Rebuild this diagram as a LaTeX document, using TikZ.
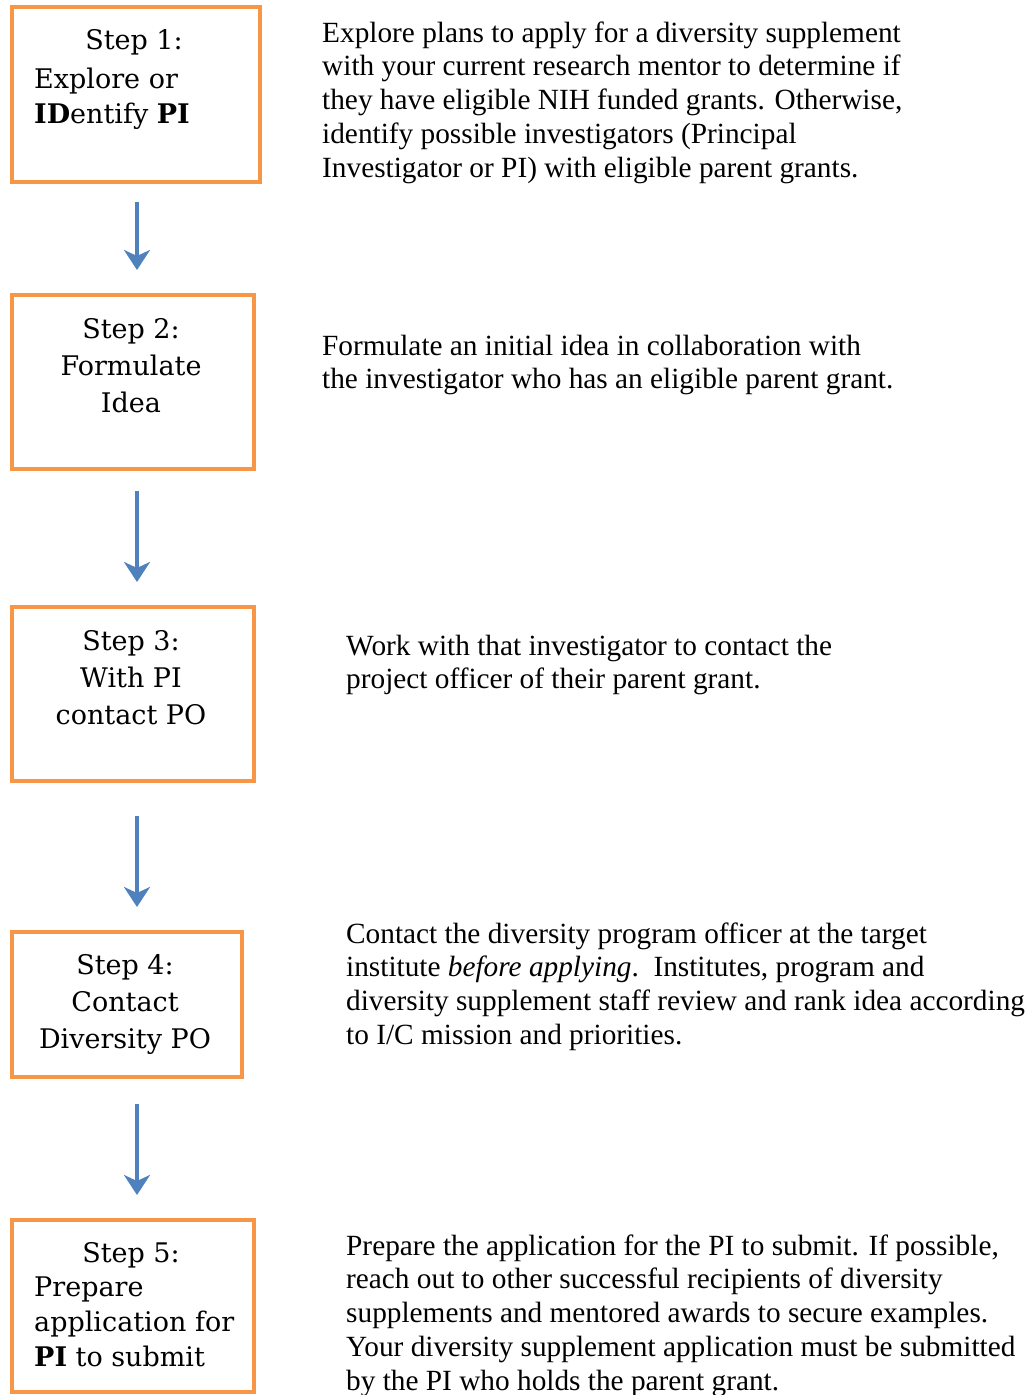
\documentclass[tikz,border=0pt]{standalone}
\usepackage{fontspec}
\setmainfont{Liberation Serif}
\newfontfamily\boxfont{DejaVu Serif}
\usetikzlibrary{arrows.meta,calc}
\definecolor{boxorange}{RGB}{247,150,70}
\definecolor{arrowblue}{RGB}{79,129,189}
\tikzset{
  stepbox/.style={draw=boxorange, line width=4pt, fill=white, inner sep=0pt, anchor=north west},
  boxtext/.style={font=\boxfont\fontsize{27}{37}\selectfont, inner sep=0pt, anchor=base, align=center},
  boxtextl/.style={font=\boxfont\fontsize{27}{35}\selectfont, inner sep=0pt, anchor=base west, align=left},
  desc/.style={font=\fontsize{29.3}{33.8}\selectfont, inner sep=0pt, anchor=base west, align=left},
  flow/.style={draw=arrowblue, line width=4pt, -{Stealth[length=20pt,width=26pt,inset=6pt]}},
}
\begin{document}
\begin{tikzpicture}[x=1pt,y=-1pt]
\useasboundingbox (0,0) rectangle (1031,1395);
% boxes
\node[stepbox, minimum width=248pt, minimum height=175pt] (b1) at (10,5) {};
\node[stepbox, minimum width=242pt, minimum height=174pt] (b2) at (10,293) {};
\node[stepbox, minimum width=242pt, minimum height=174pt] (b3) at (10,605) {};
\node[stepbox, minimum width=230pt, minimum height=145pt] (b4) at (10,930) {};
\node[stepbox, minimum width=242pt, minimum height=172pt] (b5) at (10,1218) {};
% box texts (anchor = baseline of last line)
\node[boxtext] (s1) at (134,49) {Step 1:};
\node[boxtextl] (s1b) at (34,123) {Explore or\\\textbf{ID}entify \textbf{PI}};
\node[boxtext] (s2) at (131,412) {Step 2:\\Formulate\\Idea};
\node[boxtext] (s3) at (131,724) {Step 3:\\With PI\\contact PO};
\node[boxtext] (s4) at (125,1048) {Step 4:\\Contact\\Diversity PO};
\node[boxtext] (s5) at (131,1262) {Step 5:};
\node[boxtextl] (s5b) at (34,1366) {Prepare\\application for\\\textbf{PI} to submit};
% descriptions (anchor = baseline of last line)
\node[desc] (d1) at (322,177.2) {Explore plans to apply for a diversity supplement\\with your current research mentor to determine if\\they have eligible NIH funded grants. Otherwise,\\identify possible investigators (Principal\\Investigator or PI) with eligible parent grants.};
\node[desc] (d2) at (322,388.8) {Formulate an initial idea in collaboration with\\the investigator who has an eligible parent grant.};
\node[desc] (d3) at (346,688.8) {Work with that investigator to contact the\\project officer of their parent grant.};
\node[desc] (d4) at (346,1044.4) {Contact the diversity program officer at the target\\institute \textit{before applying}.\ \ Institutes, program and\\diversity supplement staff review and rank idea according\\to I/C mission and priorities.};
\node[desc] (d5) at (346,1390.2) {Prepare the application for the PI to submit. If possible,\\reach out to other successful recipients of diversity\\supplements and mentored awards to secure examples.\\Your diversity supplement application must be submitted\\by the PI who holds the parent grant.};
% arrows
\draw[flow, shorten <=18pt, shorten >=23pt] ([xshift=1pt]b1.south) -- ([xshift=1pt]b1.south |- b2.north);
\draw[flow, shorten <=20pt, shorten >=23pt] ([xshift=4pt]b2.south) -- ([xshift=4pt]b2.south |- b3.north);
\draw[flow, shorten <=33pt, shorten >=23pt] ([xshift=4pt]b3.south) -- ([xshift=4pt]b3.south |- b4.north);
\draw[flow, shorten <=25pt, shorten >=23pt] ([xshift=10pt]b4.south) -- ([xshift=10pt]b4.south |- b5.north);
\end{tikzpicture}
\end{document}
